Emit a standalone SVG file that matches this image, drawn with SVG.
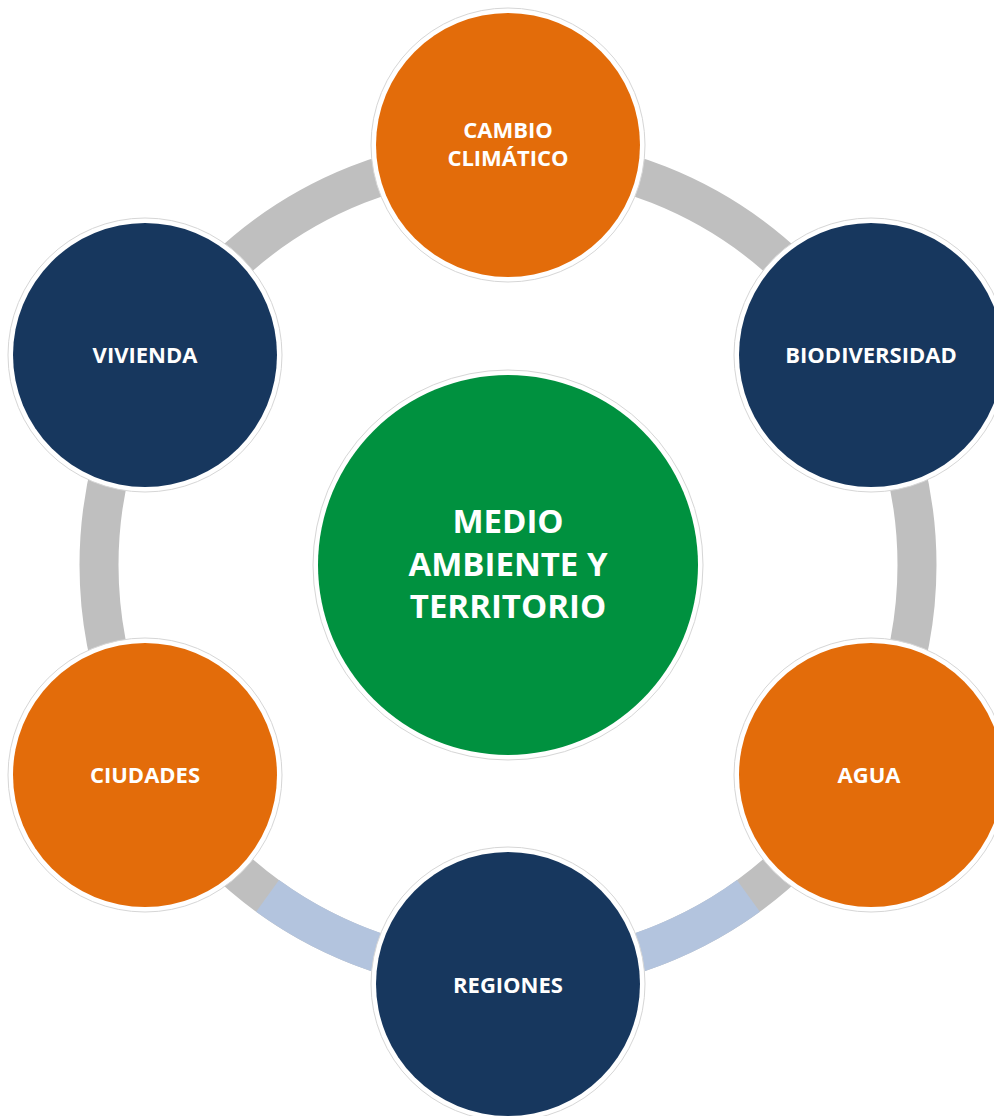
<svg xmlns="http://www.w3.org/2000/svg" width="994" height="1116" viewBox="0 0 994 1116">
<style>
.ring{fill:none;stroke:#BFBFBF;stroke-width:39}
.ringb{fill:none;stroke:#B3C4DE;stroke-width:39}
.halo{fill:#FFFFFF;stroke:#D6D6D6;stroke-width:1}
.orange{fill:#E36C0A}
.navy{fill:#17375E}
.green{fill:#00913F}
.lbl{font-family:"Open Sans","Noto Sans","Liberation Sans",sans-serif;font-weight:700;fill:#FFFFFF;text-anchor:middle;font-size:22px}
.big{font-size:33px}
</style>
<g id="connectors">
<circle class="ring" cx="508" cy="565" r="409"/>
<path class="ringb" d="M 748.4 895.9 A 409 409 0 0 1 267.6 895.9"/>
</g>
<g id="center">
<circle class="halo" cx="508" cy="565" r="195"/>
<circle class="green" cx="508" cy="565" r="190"/>
<text class="lbl big" x="508" y="533">MEDIO</text>
<text class="lbl big" x="508" y="576">AMBIENTE Y</text>
<text class="lbl big" x="508" y="618">TERRITORIO</text>
</g>
<g id="cambio">
<circle class="halo" cx="508" cy="145" r="137"/>
<circle class="orange" cx="508" cy="145" r="132"/>
<text class="lbl" x="508" y="138">CAMBIO</text>
<text class="lbl" x="508" y="166">CLIMÁTICO</text>
</g>
<g id="biodiversidad">
<circle class="halo" cx="871" cy="355" r="137"/>
<circle class="navy" cx="871" cy="355" r="132"/>
<text class="lbl" x="871" y="363">BIODIVERSIDAD</text>
</g>
<g id="agua">
<circle class="halo" cx="871" cy="775" r="137"/>
<circle class="orange" cx="871" cy="775" r="132"/>
<text class="lbl" x="869" y="783">AGUA</text>
</g>
<g id="regiones">
<circle class="halo" cx="508" cy="984" r="137"/>
<circle class="navy" cx="508" cy="984" r="132"/>
<text class="lbl" x="508" y="993">REGIONES</text>
</g>
<g id="ciudades">
<circle class="halo" cx="145" cy="775" r="137"/>
<circle class="orange" cx="145" cy="775" r="132"/>
<text class="lbl" x="145" y="783">CIUDADES</text>
</g>
<g id="vivienda">
<circle class="halo" cx="145" cy="355" r="137"/>
<circle class="navy" cx="145" cy="355" r="132"/>
<text class="lbl" x="145" y="363">VIVIENDA</text>
</g>
</svg>
